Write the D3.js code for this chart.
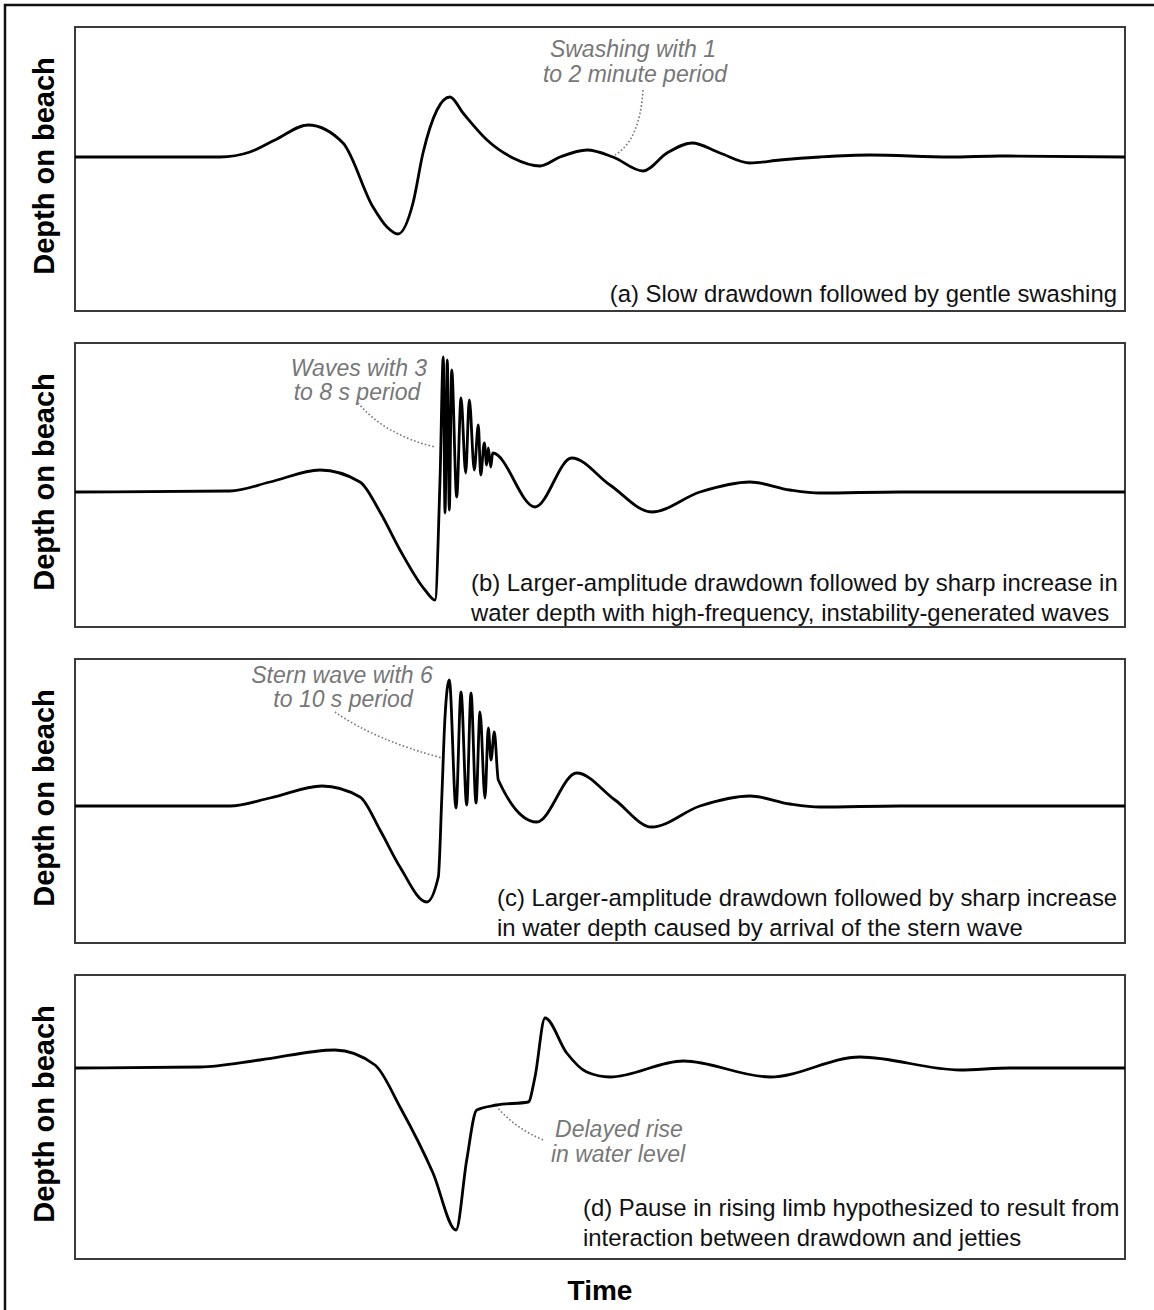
<!DOCTYPE html>
<html>
<head>
<meta charset="utf-8">
<script src="https://cdn.jsdelivr.net/npm/d3@7"></script>
<style>
  body { margin: 0; background: #fff; }
  svg { display: block; }
</style>
</head>
<body>
<script>
const width = 1154, height = 1310;

// Time runs in arbitrary units (0..1050), depth is relative to still water (up = deeper)
// (a) slow drawdown, gentle swashing
const timeA  = [0, 145, 175, 200, 233, 268, 298, 312, 323, 338, 348, 362, 375, 388, 412, 438, 465, 485, 512, 538, 568, 592, 617, 645, 675, 705, 745, 795, 875, 925, 1050];
const depthA = [0,   0,   5,  17,  32,  14, -50, -70, -77, -46,   4,  47,  60,  44,  17,  -1,  -9,   0,   7,   0, -14,   4,  14,   4,  -6,  -3,   0,   2,   0,   1,    0];

// (b) larger drawdown, sharp rise with instability waves
const timeB  = [0, 155, 195, 245, 285, 305, 325, 350, 360, 365, 368.3, 370, 372.3, 374.3, 376.7, 381.7, 386, 390.7, 394.3, 399.3, 403.3, 405.7, 409.3, 411.7, 413.3, 415.7, 417.7, 460, 496.7, 535, 576.7, 625, 675, 715, 745, 825, 1050];
const depthB = [0,   1,  10,  22,  10, -20, -58, -98, -108, 12, 135, -21, 132, -18, 122, -5, 94, 19, 92, 22, 67, 17, 49, 27, 44, 25, 39, -15, 34, 7, -20, 0, 10, 2, -1, 0, 0];

// (c) larger drawdown, stern wave arrival
const timeC  = [0, 155, 195, 247, 285, 305, 325, 351.7, 363.3, 366.7, 370, 374.3, 381, 386, 391.7, 396, 401, 405, 410, 413.3, 416, 419.3, 423.3, 461.7, 501.7, 540, 576.7, 625, 675, 715, 745, 825, 1050];
const depthC = [0,   0,   8,  20,   9, -24, -61, -96, -71, 6, 89, 126, -2, 114, 1, 113, 3, 94, 8, 78, 46, 74, 26, -16, 33, 6, -21, 0, 10, 2, -1, 0, 0];

// (d) pause in the rising limb
const timeD  = [0, 125, 185, 260, 300, 325, 358, 381, 391.7, 401.7, 421.7, 453.3, 460, 470, 491.7, 511.7, 535, 608.3, 695, 785, 885, 935, 1050];
const depthD = [0,   1,   8,  18,   3, -39, -105, -162, -92, -42, -37, -34, -9, 50, 15, -4, -9, 7, -9, 11, -2, 0, 0];

const seriesTime  = [timeA, timeB, timeC, timeD];
const seriesDepth = [depthA, depthB, depthC, depthD];
const depthDomains = [[-154, 130], [-135, 149], [-137, 147], [-191, 93]];

const captions = [
  ["(a) Slow drawdown followed by gentle swashing"],
  ["(b) Larger-amplitude drawdown followed by sharp increase in",
   "water depth with high-frequency, instability-generated waves"],
  ["(c) Larger-amplitude drawdown followed by sharp increase",
   "in water depth caused by arrival of the stern wave"],
  ["(d) Pause in rising limb hypothesized to result from",
   "interaction between drawdown and jetties"]
];

// annotation lines: [text, time, depth] (text is centred on time)
const notes = [
  [["Swashing with 1", 558, 100], ["to 2 minute period", 560, 75]],
  [["Waves with 3", 284, 116], ["to 8 s period", 282, 92]],
  [["Stern wave with 6", 267, 123], ["to 10 s period", 268, 99]],
  [["Delayed rise", 544, -69], ["in water level", 543, -94]]
];
// dotted leaders: start, control, end as [time, depth]
const leaders = [
  [[568, 67], [565, 17], [540, 2]],
  [[283, 89], [310, 57], [360, 45]],
  [[260, 94], [300, 66], [367, 48]],
  [[468, -72], [440, -60], [422, -39]]
];

const panelLeft = 75, panelRight = 1125, panelH = 284;
const panelTops = [27, 343, 659, 975];
const captionAnchor = [
  {x: 1117, y: 302, anchor: "end"},
  {x: 471, y: 591, anchor: "start"},
  {x: 497, y: 906, anchor: "start"},
  {x: 583, y: 1216, anchor: "start"}
];

const font = "'Liberation Sans', Arial, Helvetica, sans-serif";

const svg = d3.select("body").append("svg")
    .attr("width", width)
    .attr("height", height);

svg.append("rect").attr("width", width).attr("height", height).attr("fill", "#fff");

// outer frame (runs off the right and bottom edge)
svg.append("path")
    .attr("d", `M5,${height + 5}V5H${width + 5}`)
    .attr("fill", "none")
    .attr("stroke", "#111")
    .attr("stroke-width", 2.5);

const x = d3.scaleLinear().domain([0, 1050]).range([panelLeft, panelRight]);

panelTops.forEach((top, i) => {
    const y = d3.scaleLinear().domain(depthDomains[i]).range([top + panelH, top]);
    const g = svg.append("g");

    g.append("rect")
        .attr("x", panelLeft).attr("y", top)
        .attr("width", panelRight - panelLeft).attr("height", panelH)
        .attr("fill", "none")
        .attr("stroke", "#3a3a3a")
        .attr("stroke-width", 2);

    // y label
    g.append("text")
        .attr("transform", `translate(54,${top + panelH / 2 - 3}) rotate(-90)`)
        .attr("text-anchor", "middle")
        .attr("font-family", font)
        .attr("font-weight", "bold")
        .attr("font-size", 29)
        .attr("fill", "#000")
        .text("Depth on beach");

    const pts = seriesTime[i].map((t, k) => [t, seriesDepth[i][k]]);
    const line = d3.line()
        .x(d => x(d[0]))
        .y(d => y(d[1]))
        .curve(d3.curveMonotoneX);

    g.append("path")
        .datum(pts)
        .attr("d", line)
        .attr("fill", "none")
        .attr("stroke", "#000")
        .attr("stroke-width", 2.8)
        .attr("stroke-linejoin", "round");

    // leader
    const [a, c, b] = leaders[i];
    const path = d3.path();
    path.moveTo(x(a[0]), y(a[1]));
    path.quadraticCurveTo(x(c[0]), y(c[1]), x(b[0]), y(b[1]));
    g.append("path")
        .attr("d", path.toString())
        .attr("fill", "none")
        .attr("stroke", "#777")
        .attr("stroke-width", 1.6)
        .attr("stroke-dasharray", "1.6,2.2");

    notes[i].forEach(n => {
        g.append("text")
            .attr("x", x(n[1]))
            .attr("y", y(n[2]))
            .attr("text-anchor", "middle")
            .attr("font-family", font)
            .attr("font-style", "italic")
            .attr("font-size", 23)
            .attr("fill", "#777")
            .text(n[0]);
    });

    const ca = captionAnchor[i];
    captions[i].forEach((s, k) => {
        g.append("text")
            .attr("x", ca.x)
            .attr("y", ca.y + k * 30)
            .attr("text-anchor", ca.anchor)
            .attr("font-family", font)
            .attr("font-size", 23.9)
            .attr("fill", "#111")
            .text(s);
    });
});

svg.append("text")
    .attr("x", x(525))
    .attr("y", 1300)
    .attr("text-anchor", "middle")
    .attr("font-family", font)
    .attr("font-weight", "bold")
    .attr("font-size", 28)
    .attr("fill", "#000")
    .text("Time");
</script>
</body>
</html>
